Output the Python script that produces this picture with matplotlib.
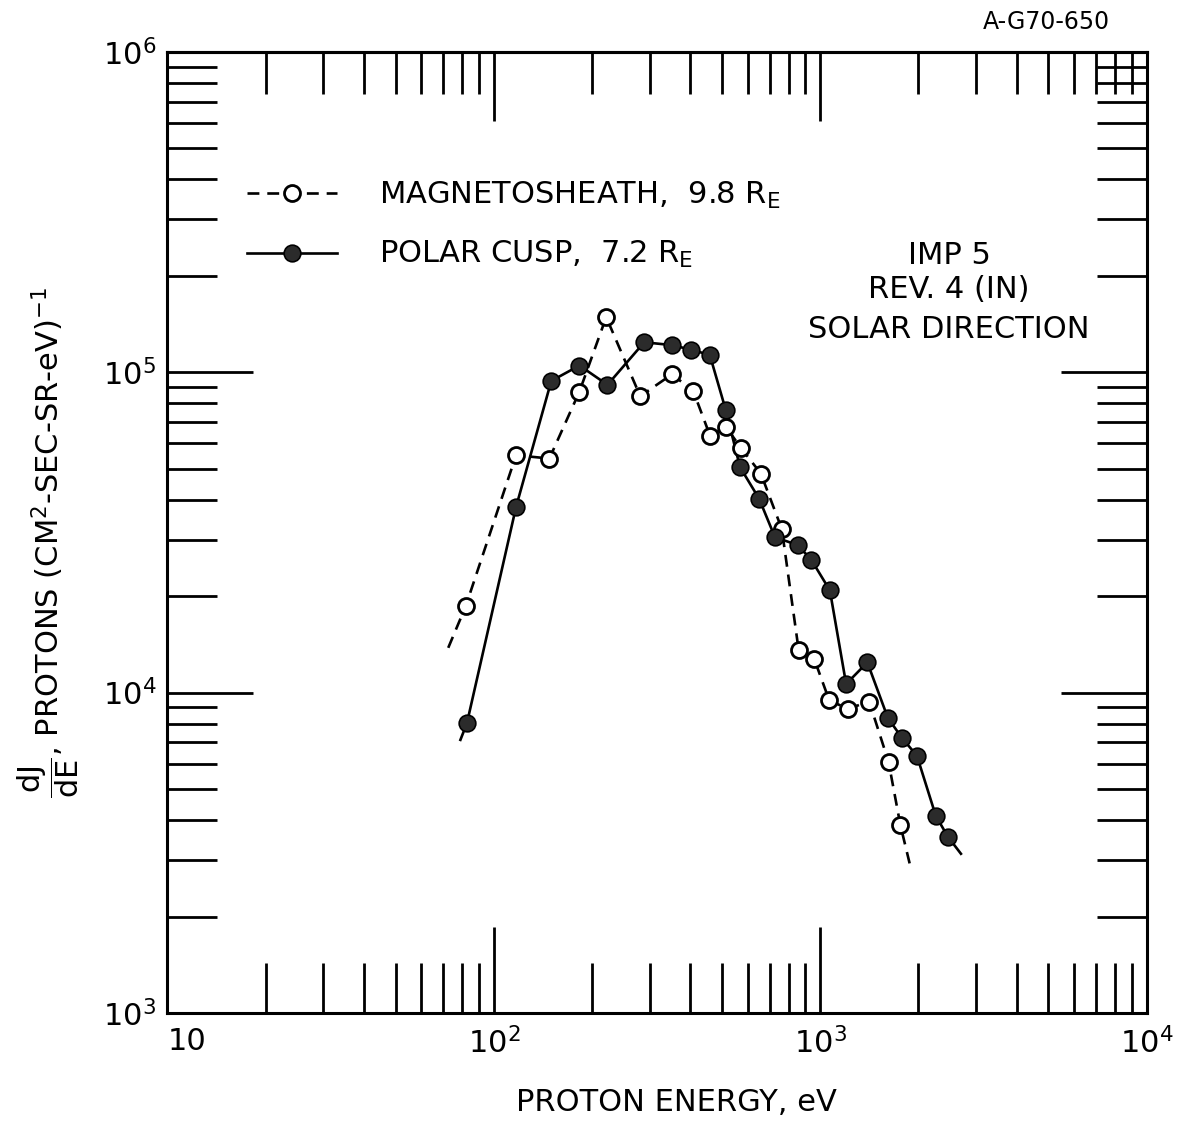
import matplotlib.pyplot as plt
from matplotlib.lines import Line2D
from matplotlib.ticker import NullFormatter

plt.rcParams['font.family'] = ['DejaVu Sans']
plt.rcParams['mathtext.default'] = 'regular'

# magnetosheath, 9.8 RE -- open circles, dashed curve
sheath_energy = [82, 117, 148, 183, 221, 281, 351, 408, 460, 514,
                 573, 658, 763, 859, 960, 1066, 1217, 1413, 1620, 1762]
sheath_flux = [18600, 55100, 53800, 87100, 148700, 84200, 98500, 87700, 63300, 67600,
               57900, 48300, 32400, 13600, 12700, 9460, 8900, 9380, 6080, 3850]
# where the dashed curve starts / stops beyond the first and last points
sheath_tail_energy = [72.5, 1880]
sheath_tail_flux = [13800, 2930]

# polar cusp, 7.2 RE -- filled circles, solid curve
cusp_energy = [82.7, 117, 150, 183, 223, 289, 351, 403, 459, 514, 568, 650,
               727, 853, 939, 1071, 1201, 1395, 1612, 1778, 1980, 2260, 2462]
cusp_flux = [8020, 38000, 94000, 105000, 91400, 124100, 121600, 117600, 113300, 76100,
             50600, 40300, 30550, 28900, 26000, 20850, 10640, 12430, 8340, 7240,
             6345, 4130, 3550]
cusp_tail_energy = [79, 2700]
cusp_tail_flux = [7120, 3140]

x_ticks = [10, 100, 1000, 10000]
x_tick_labels = ['10', '$10^2$', '$10^3$', '$10^4$']
y_ticks = [1e3, 1e4, 1e5, 1e6]
y_tick_labels = ['$10^3$', '$10^4$', '$10^5$', '$10^6$']

FS = 22
dash = (0, (4.5, 3.0))

fig = plt.figure(figsize=(11.81, 11.25), dpi=100)
ax = fig.add_axes([0.1418, 0.0996, 0.829, 0.8542])
ax.set_xscale('log')
ax.set_yscale('log')
ax.set_xlim(10, 1e4)
ax.set_ylim(1e3, 1e6)

ax.plot([sheath_tail_energy[0]] + sheath_energy + [sheath_tail_energy[1]],
        [sheath_tail_flux[0]] + sheath_flux + [sheath_tail_flux[1]],
        color='black', lw=1.9, ls=dash, zorder=2)
ax.plot(sheath_energy, sheath_flux, ls='none', marker='o', ms=11.5,
        mfc='white', mec='black', mew=2.0, zorder=3)

ax.plot([cusp_tail_energy[0]] + cusp_energy + [cusp_tail_energy[1]],
        [cusp_tail_flux[0]] + cusp_flux + [cusp_tail_flux[1]],
        color='black', lw=1.9, zorder=2)
ax.plot(cusp_energy, cusp_flux, ls='none', marker='o', ms=12,
        mfc='#2b2b2b', mec='black', mew=1.2, zorder=3)

# ticks: bottom/left/right on the main axes, top on a secondary axis
ax.set_xticks(x_ticks, x_tick_labels)
ax.set_yticks(y_ticks, y_tick_labels)
ax.get_xticklabels()[0].set_horizontalalignment('left')
ax.xaxis.set_minor_formatter(NullFormatter())
ax.yaxis.set_minor_formatter(NullFormatter())
ax.tick_params(which='both', direction='in', top=False, right=True,
               width=2.0, labelsize=FS, colors='black')
ax.tick_params(which='major', length=62)
ax.tick_params(which='minor', length=36)
ax.tick_params(axis='x', pad=10)
ax.tick_params(axis='y', pad=8)

top = ax.secondary_xaxis('top')
top.tick_params(which='both', direction='in', width=2.0, labeltop=False)
top.tick_params(which='major', length=50)
top.tick_params(which='minor', length=30)
top.xaxis.set_major_formatter(NullFormatter())
top.xaxis.set_minor_formatter(NullFormatter())

for s in list(ax.spines.values()) + list(top.spines.values()):
    s.set_linewidth(2.2)

ax.set_xlabel('PROTON ENERGY, eV', fontsize=FS, va='center')
ax.xaxis.set_label_coords(0.52, -0.0937)
ax.set_ylabel(r'$\dfrac{dJ}{dE}$, PROTONS (CM$^2$-SEC-SR-eV)$^{-1}$',
              fontsize=FS, va='center')
ax.yaxis.set_label_coords(-0.122, 0.49)

h_sheath = Line2D([], [], color='black', lw=1.9, ls=dash, marker='o', ms=11.5,
                  mfc='white', mec='black', mew=2.0)
h_cusp = Line2D([], [], color='black', lw=1.9, marker='o', ms=12,
                mfc='#2b2b2b', mec='black', mew=1.2)
fig.legend([h_sheath, h_cusp],
           [r'MAGNETOSHEATH,  9.8 R$_E$', r'POLAR CUSP,  7.2 R$_E$'],
           loc='upper left', bbox_to_anchor=(247 / 1181, 1 - 180 / 1125),
           frameon=False, fontsize=FS, handlelength=2.94, handletextpad=1.37,
           labelspacing=0.92, borderpad=0, borderaxespad=0, numpoints=1)

fig.text(949 / 1181, 1 - 255 / 1125, 'IMP 5', ha='center', va='center', fontsize=FS)
fig.text(949 / 1181, 1 - 290 / 1125, 'REV. 4 (IN)', ha='center', va='center', fontsize=FS)
fig.text(949 / 1181, 1 - 330 / 1125, 'SOLAR DIRECTION', ha='center', va='center', fontsize=FS)
fig.text(1046 / 1181, 1 - 22 / 1125, 'A-G70-650', ha='center', va='center', fontsize=17)

fig.savefig('out.png', dpi=100)
